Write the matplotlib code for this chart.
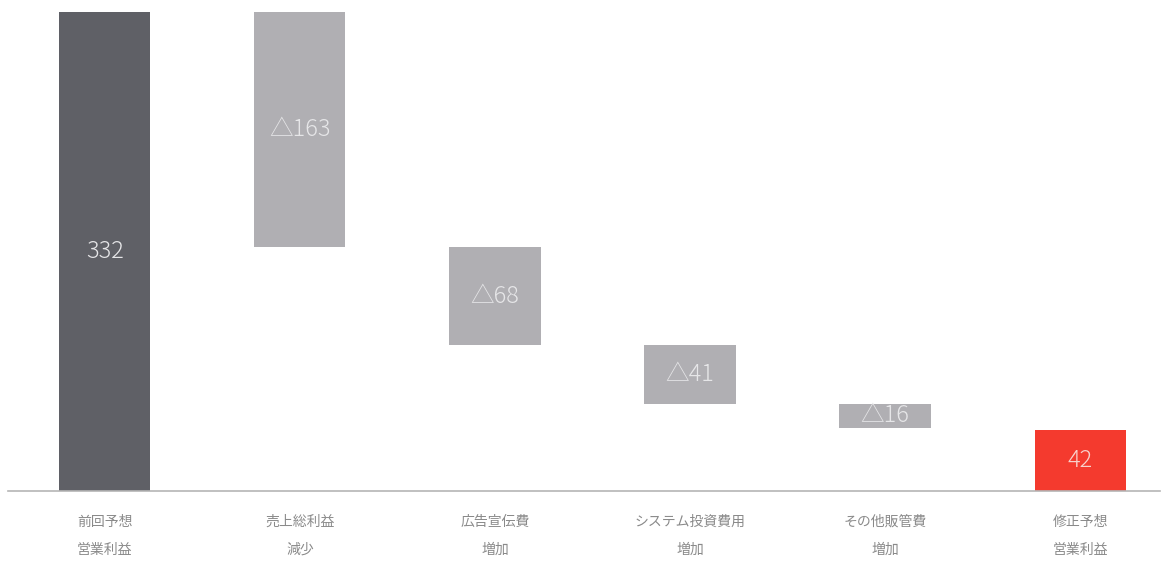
import matplotlib
matplotlib.use("Agg")
import matplotlib.pyplot as plt
import numpy as np

plt.rcParams['font.family'] = ['Noto Sans CJK JP', 'DejaVu Sans']

categories = ["前回予想\n営業利益", "売上総利益\n減少", "広告宣伝費\n増加",
              "システム投資費用\n増加", "その他販管費\n増加", "修正予想\n営業利益"]
start_value = 332
decreases = [163, 68, 41, 16]
end_value = 42

# build bar bottoms/heights for the waterfall
heights = [start_value]
bottoms = [0]
level = start_value
for d in decreases:
    level -= d
    heights.append(d)
    bottoms.append(level)
heights.append(end_value)
bottoms.append(0)

labels = [str(start_value)] + ["△" + str(d) for d in decreases] + [str(end_value)]
colors = ["#5f6066"] + ["#b0afb3"] * len(decreases) + ["#f43a2e"]
text_colors = ["#e6e6e8"] * 5 + ["#f8d2cc"]

fig = plt.figure(figsize=(11.64, 5.65), dpi=100)
ax = fig.add_axes([8/1164, 74/565, 1152/1164, 490.6/565])

x = np.arange(len(categories))
ax.bar(x, heights, bottom=bottoms, width=0.467, color=colors)

for xi, b, h, lab, tc in zip(x, bottoms, heights, labels, text_colors):
    ax.text(xi, b + h / 2, lab, ha='center', va='center', fontsize=17,
            color=tc, fontweight='light')

ax.set_xlim(-0.497, 5.41)
ax.set_ylim(0, 340)
ax.set_xticks(x)
ax.set_xticklabels(categories, fontsize=10, color="#8a8a8a", linespacing=2.3)
ax.tick_params(axis='x', length=0, pad=17)
ax.set_yticks([])
for s in ['top', 'right', 'left']:
    ax.spines[s].set_visible(False)
ax.spines['bottom'].set_color("#b5b5b5")
ax.spines['bottom'].set_linewidth(1.2)

fig.savefig("out.png", dpi=100)
